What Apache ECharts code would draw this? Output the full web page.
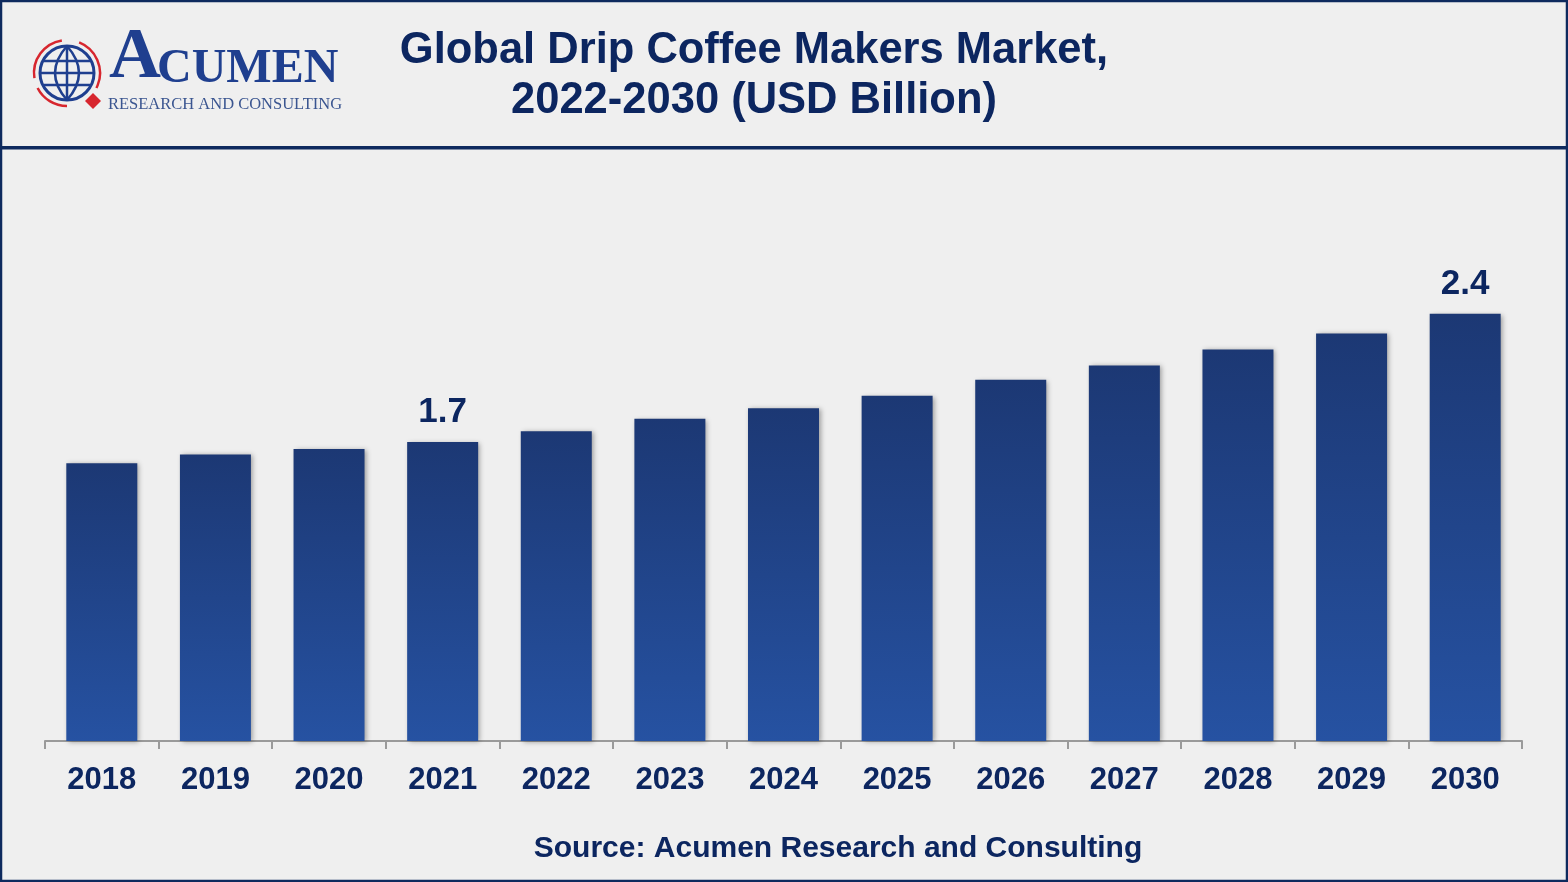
<!DOCTYPE html>
<html>
<head>
<meta charset="utf-8">
<script src="https://cdn.jsdelivr.net/npm/echarts@6/dist/echarts.min.js"></script>
<style>
html,body{margin:0;padding:0;background:#efefef;}
#chart{width:1568px;height:882px;}
</style>
</head>
<body>
<div id="chart"></div>
<script>
const categories = ['2018','2019','2020','2021','2022','2023','2024','2025','2026','2027','2028','2029','2030'];
const values = [1.56, 1.61, 1.64, 1.68, 1.74, 1.81, 1.87, 1.94, 2.03, 2.11, 2.20, 2.29, 2.4];
const labeledYears = ['2021', '2030'];
const titleLines = ['Global Drip Coffee Makers Market,', '2022-2030 (USD Billion)'];
const sourceText = 'Source: Acumen Research and Consulting';

const navy = '#0c2660';
const chart = echarts.init(document.getElementById('chart'));

const seriesData = values.map((v, i) => ({
  value: v,
  label: { show: labeledYears.includes(categories[i]) }
}));

const logoBlue = '#1f3f8f';
const logoRed = '#d7262e';
const gx = 67, gy = 73, gr = 27;

chart.setOption({
  backgroundColor: '#efefef',
  animation: false,
  grid: { left: 45, right: 46, top: 207, bottom: 141, containLabel: false },
  xAxis: {
    type: 'category',
    data: categories,
    boundaryGap: true,
    axisLine: { lineStyle: { color: '#9a9a9a', width: 2 } },
    axisTick: { show: true, length: 8, lineStyle: { color: '#9a9a9a', width: 2 } },
    axisLabel: { color: navy, fontSize: 31, fontWeight: 'bold', fontFamily: 'Liberation Sans, Arial, sans-serif', margin: 24 }
  },
  yAxis: {
    type: 'value', min: 0, max: 3, show: false, splitLine: { show: false }
  },
  series: [{
    type: 'bar',
    data: seriesData,
    barWidth: 71,
    itemStyle: {
      color: new echarts.graphic.LinearGradient(0, 0, 0, 1, [
        { offset: 0, color: '#1c3874' },
        { offset: 1, color: '#2652a2' }
      ]),
      shadowBlur: 5,
      shadowColor: 'rgba(0,0,0,0.35)',
      shadowOffsetX: 2,
      shadowOffsetY: 1
    },
    label: {
      position: 'top',
      distance: 12,
      color: navy,
      fontSize: 35,
      fontWeight: 'bold',
      fontFamily: 'Liberation Sans, Arial, sans-serif',
      formatter: p => p.value.toFixed(1)
    }
  }],
  graphic: [
    // outer frame
    { type: 'rect', shape: { x: 1, y: 1, width: 1566, height: 880 }, style: { fill: 'none', stroke: '#0e2a5e', lineWidth: 2.5 }, z: 100 },
    // header separator
    { type: 'rect', shape: { x: 0, y: 146, width: 1568, height: 3.5 }, style: { fill: '#0e2a5e' }, z: 100 },
    // title
    { type: 'text', x: 754, y: 51, z: 100,
      style: { text: titleLines[0], fill: navy, font: 'bold 43.5px "Liberation Sans", Arial, sans-serif', textAlign: 'center', textVerticalAlign: 'middle' } },
    { type: 'text', x: 754, y: 101, z: 100,
      style: { text: titleLines[1], fill: navy, font: 'bold 43.5px "Liberation Sans", Arial, sans-serif', textAlign: 'center', textVerticalAlign: 'middle' } },
    // source
    { type: 'text', z: 100, x: 838, y: 849,
      style: { text: sourceText, fill: navy, font: 'bold 30px "Liberation Sans", Arial, sans-serif', textAlign: 'center', textVerticalAlign: 'middle' } },
    // logo globe
    { type: 'circle', shape: { cx: gx, cy: gy, r: gr }, style: { fill: 'none', stroke: logoBlue, lineWidth: 3 }, z: 100 },
    { type: 'line', shape: { x1: gx - gr + 4, y1: gy - 12, x2: gx + gr - 4, y2: gy - 12 }, style: { stroke: logoBlue, lineWidth: 2.5 }, z: 100 },
    { type: 'line', shape: { x1: gx - gr, y1: gy, x2: gx + gr, y2: gy }, style: { stroke: logoBlue, lineWidth: 2.5 }, z: 100 },
    { type: 'line', shape: { x1: gx - gr + 4, y1: gy + 12, x2: gx + gr - 4, y2: gy + 12 }, style: { stroke: logoBlue, lineWidth: 2.5 }, z: 100 },
    { type: 'line', shape: { x1: gx, y1: gy - gr, x2: gx, y2: gy + gr }, style: { stroke: logoBlue, lineWidth: 2.5 }, z: 100 },
    { type: 'bezierCurve', shape: { x1: gx, y1: gy - gr, cpx1: gx - 24, cpy1: gy, x2: gx, y2: gy + gr }, style: { stroke: logoBlue, lineWidth: 2.5, fill: 'none' }, z: 100 },
    { type: 'bezierCurve', shape: { x1: gx, y1: gy - gr, cpx1: gx + 24, cpy1: gy, x2: gx, y2: gy + gr }, style: { stroke: logoBlue, lineWidth: 2.5, fill: 'none' }, z: 100 },
    // red arcs
    { type: 'arc', shape: { cx: gx, cy: gy, r: gr + 6, startAngle: Math.PI * 0.95, endAngle: Math.PI * 1.45 }, style: { stroke: logoRed, lineWidth: 2.5, fill: 'none' }, z: 100 },
    { type: 'arc', shape: { cx: gx, cy: gy, r: gr + 6, startAngle: Math.PI * 1.62, endAngle: Math.PI * 2.15 }, style: { stroke: logoRed, lineWidth: 2.5, fill: 'none' }, z: 100 },
    { type: 'arc', shape: { cx: gx, cy: gy, r: gr + 6, startAngle: Math.PI * 0.5, endAngle: Math.PI * 0.85 }, style: { stroke: logoRed, lineWidth: 2.5, fill: 'none' }, z: 100 },
    { type: 'polygon', shape: { points: [[93, 93], [101, 101], [93, 109], [85, 101]] }, style: { fill: logoRed }, z: 101 },
    // logo text
    { type: 'text', x: 109, y: 94, z: 100, style: { text: 'A', fill: logoBlue, font: 'bold 72px "Liberation Serif", "Times New Roman", serif', textVerticalAlign: 'bottom' } },
    { type: 'text', x: 157, y: 94, z: 100, style: { text: 'CUMEN', fill: logoBlue, font: 'bold 48px "Liberation Serif", "Times New Roman", serif', textVerticalAlign: 'bottom' } },
    { type: 'text', x: 108, y: 105, z: 100, style: { text: 'RESEARCH AND CONSULTING', fill: '#3a5590', font: '16.5px "Liberation Serif", "Times New Roman", serif', textVerticalAlign: 'middle' } }
  ]
});
</script>
</body>
</html>
